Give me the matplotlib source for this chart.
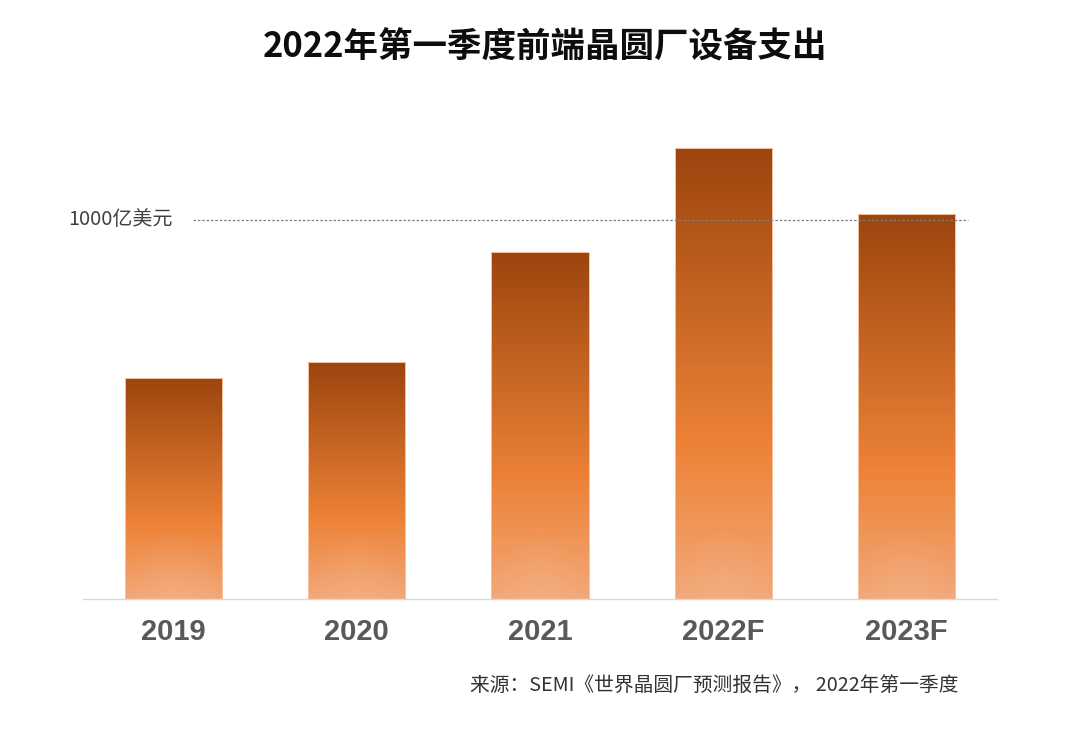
import numpy as np
import matplotlib.pyplot as plt
from matplotlib.colors import LinearSegmentedColormap, to_rgb

plt.rcParams['font.family'] = ['Noto Sans CJK SC', 'DejaVu Sans']

# 数据（单位：亿美元）
years = ['2019', '2020', '2021', '2022F', '2023F']
spend = [583, 625, 916, 1190, 1016]
ref_value = 1000
ref_label = '1000亿美元'
title = '2022年第一季度前端晶圆厂设备支出'
source = '来源：SEMI《世界晶圆厂预测报告》， 2022年第一季度'

fig = plt.figure(figsize=(10.8, 7.32), dpi=100)
ax = fig.add_axes([83/1080, 1-599/732, (997-83)/1080, (599-130)/732])

grad = LinearSegmentedColormap.from_list(
    'bar', [(0, '#9C450E'), (0.66, '#ED8237'), (1, '#F2A878')])

bar_w = 0.53
ny, nx = 300, 60
yy, xx = np.mgrid[0:1:ny*1j, -1:1:nx*1j]
for i, v in enumerate(spend):
    bars = ax.bar(i, v, width=bar_w, color='none', edgecolor='#F5C4A2',
                  linewidth=0.7, zorder=3)
    # 竖直渐变 + 底部径向高光
    base = grad(yy)[..., :3]
    glow_h = 180 / v
    r = np.sqrt(xx**2 + ((1 - yy) / min(glow_h, 1))**2)
    glow = np.clip(1 - r, 0, 1)[..., None] * 0.35
    img = base * (1 - glow) + np.array(to_rgb('#F5B98E')) * glow
    im = ax.imshow(img, extent=(i - bar_w/2, i + bar_w/2, 0, v),
                   origin='upper', aspect='auto', zorder=2,
                   interpolation='bilinear')
    im.set_clip_path(bars.patches[0])

ax.set_xlim(-0.494, len(years) - 1 + 0.494)
ax.set_ylim(0, 1237)

ax.plot([(193-83)/914*(4.988) - 0.494, (968-83)/914*(4.988) - 0.494],
        [ref_value, ref_value], ls=(0, (2, 1.5)), color='#7F7F7F',
        lw=0.9, zorder=4)
ax.text(-0.494 + (173-83)/914*4.988, ref_value, ref_label, ha='right',
        va='center', fontsize=14.4, color='#404040')

for s in ['top', 'right', 'left']:
    ax.spines[s].set_visible(False)
ax.spines['bottom'].set_color('#D9D9D9')
ax.spines['bottom'].set_linewidth(1)
ax.set_yticks([])
ax.set_xticks(range(len(years)))
ax.set_xticklabels(years, fontsize=21, fontweight='bold', color='#595959',
                   family=['Liberation Sans', 'DejaVu Sans'])
ax.tick_params(axis='x', length=0, pad=14)

fig.text(545/1080, 1-47/732, title, ha='center', va='center', fontsize=24.8,
         fontweight='bold', color='#0D0D0D')
fig.text(958/1080, 1-685/732, source, ha='right', va='center',
         fontsize=14.2, color='#333333')

fig.savefig('out.png', dpi=100)
